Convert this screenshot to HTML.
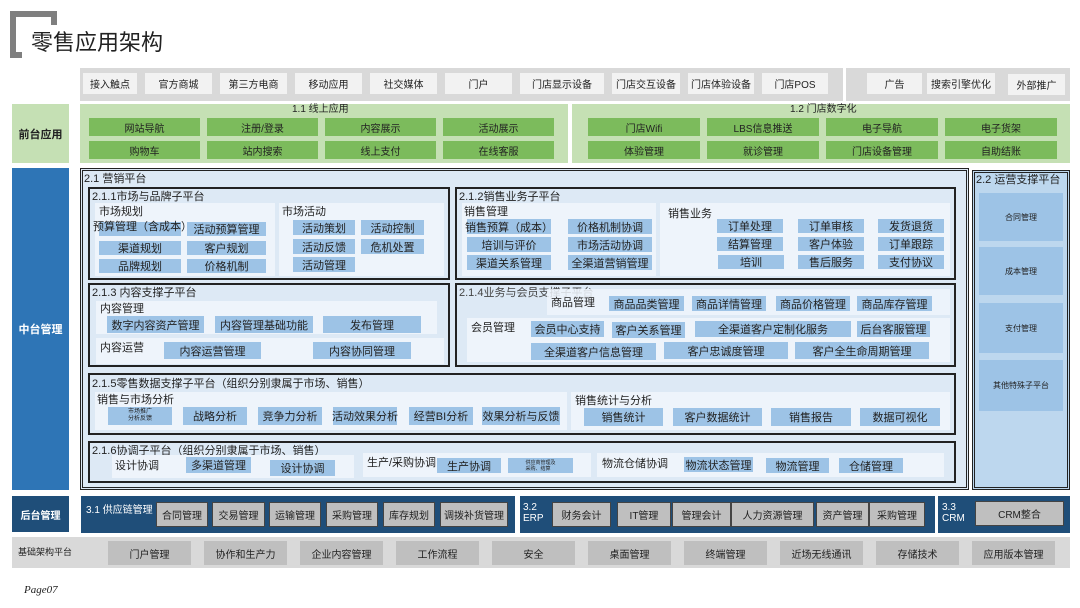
<!DOCTYPE html>
<html><head><meta charset="utf-8">
<style>
*{margin:0;padding:0;box-sizing:border-box}
body{width:1080px;height:608px;background:#fff;position:relative;overflow:hidden;font-family:"Liberation Sans","Noto Sans CJK SC",sans-serif;color:#222}
div{position:absolute}
.c{display:flex;align-items:center;justify-content:center;white-space:nowrap;font-size:10px}
.t{font-size:10px;white-space:nowrap;line-height:12px}
.g{background:#f2f2f2}
.gr{background:#7cbb5c}
.b{background:#9dc3e6}
.p{background:#eef4fb}
.f{border:2px solid #222;background:#dde9f5}
.k{background:#bfbfbf;border:1px solid #444}
</style></head><body>
<!-- title -->
<div style="left:10px;top:11px;width:6px;height:47px;background:#7f7f7f"></div>
<div style="left:10px;top:11px;width:47px;height:6px;background:#7f7f7f"></div>
<div style="left:51px;top:11px;width:6px;height:14px;background:#7f7f7f"></div>
<div style="left:10px;top:52px;width:12px;height:6px;background:#7f7f7f"></div>
<div style="left:31px;top:30px;font-size:22px;line-height:26px;white-space:nowrap">零售应用架构</div>

<!-- top bar -->
<div style="left:80px;top:68px;width:763px;height:33px;background:#d9d9d9"></div>
<div style="left:846px;top:68px;width:224px;height:33px;background:#d9d9d9"></div>
<div class="c g" style="left:83px;top:73px;width:54px;height:21px">接入触点</div>
<div class="c g" style="left:145px;top:73px;width:67px;height:21px">官方商城</div>
<div class="c g" style="left:220px;top:73px;width:67px;height:21px">第三方电商</div>
<div class="c g" style="left:295px;top:73px;width:67px;height:21px">移动应用</div>
<div class="c g" style="left:370px;top:73px;width:67px;height:21px">社交媒体</div>
<div class="c g" style="left:445px;top:73px;width:67px;height:21px">门户</div>
<div class="c g" style="left:520px;top:73px;width:84px;height:21px">门店显示设备</div>
<div class="c g" style="left:612px;top:73px;width:68px;height:21px">门店交互设备</div>
<div class="c g" style="left:688px;top:73px;width:66px;height:21px">门店体验设备</div>
<div class="c g" style="left:762px;top:73px;width:66px;height:21px">门店POS</div>
<div class="c g" style="left:867px;top:73px;width:55px;height:21px">广告</div>
<div class="c g" style="left:927px;top:73px;width:68px;height:21px">搜索引擎优化</div>
<div class="c g" style="left:1008px;top:74px;width:57px;height:21px">外部推广</div>

<!-- front -->
<div class="c" style="left:12px;top:104px;width:57px;height:59px;background:#c5e0b4;font-weight:bold;font-size:11px">前台应用</div>
<div style="left:80px;top:104px;width:488px;height:59px;background:#c5e0b4"></div>
<div class="t" style="left:292px;top:104px">1.1 线上应用</div>
<div class="c gr" style="left:89px;top:118px;width:111px;height:18px">网站导航</div>
<div class="c gr" style="left:207px;top:118px;width:111px;height:18px">注册/登录</div>
<div class="c gr" style="left:325px;top:118px;width:111px;height:18px">内容展示</div>
<div class="c gr" style="left:443px;top:118px;width:111px;height:18px">活动展示</div>
<div class="c gr" style="left:89px;top:141px;width:111px;height:18px">购物车</div>
<div class="c gr" style="left:207px;top:141px;width:111px;height:18px">站内搜索</div>
<div class="c gr" style="left:325px;top:141px;width:111px;height:18px">线上支付</div>
<div class="c gr" style="left:443px;top:141px;width:111px;height:18px">在线客服</div>
<div style="left:572px;top:104px;width:498px;height:59px;background:#c5e0b4"></div>
<div class="t" style="left:790px;top:104px">1.2 门店数字化</div>
<div class="c gr" style="left:588px;top:118px;width:112px;height:18px">门店Wifi</div>
<div class="c gr" style="left:707px;top:118px;width:112px;height:18px">LBS信息推送</div>
<div class="c gr" style="left:826px;top:118px;width:112px;height:18px">电子导航</div>
<div class="c gr" style="left:945px;top:118px;width:112px;height:18px">电子货架</div>
<div class="c gr" style="left:588px;top:141px;width:112px;height:18px">体验管理</div>
<div class="c gr" style="left:707px;top:141px;width:112px;height:18px">就诊管理</div>
<div class="c gr" style="left:826px;top:141px;width:112px;height:18px">门店设备管理</div>
<div class="c gr" style="left:945px;top:141px;width:112px;height:18px">自助结账</div>

<!-- middle -->
<div class="c" style="left:12px;top:168px;width:57px;height:322px;background:#2e75b6;color:#fff;font-weight:bold;font-size:11px">中台管理</div>
<div style="left:80px;top:168px;width:889px;height:322px;border:3px double #222;background:#dde9f5"></div>
<div class="t" style="left:84px;top:173px;font-size:11px">2.1 营销平台</div>

<!-- 2.1.1 -->
<div class="f" style="left:88px;top:187px;width:362px;height:93px"></div>
<div class="t" style="left:92px;top:191px;font-size:11px">2.1.1市场与品牌子平台</div>
<div class="p" style="left:95px;top:203px;width:180px;height:73px"></div>
<div class="p" style="left:279px;top:203px;width:165px;height:73px"></div>
<div class="t" style="left:99px;top:206px;font-size:11px">市场规划</div>
<div class="t" style="left:282px;top:206px;font-size:11px">市场活动</div>
<div class="b" style="left:99px;top:222px;width:82px;height:14px"></div>
<div class="t" style="left:93px;top:221px;font-size:11px">预算管理（含成本）</div>
<div class="c b" style="left:187px;top:222px;width:79px;height:14px;font-size:11px">活动预算管理</div>
<div class="c b" style="left:99px;top:241px;width:82px;height:14px;font-size:11px">渠道规划</div>
<div class="c b" style="left:187px;top:241px;width:79px;height:14px;font-size:11px">客户规划</div>
<div class="c b" style="left:99px;top:259px;width:82px;height:14px;font-size:11px">品牌规划</div>
<div class="c b" style="left:187px;top:259px;width:79px;height:14px;font-size:11px">价格机制</div>
<div class="c b" style="left:293px;top:220px;width:62px;height:15px;font-size:11px">活动策划</div>
<div class="c b" style="left:361px;top:220px;width:63px;height:15px;font-size:11px">活动控制</div>
<div class="c b" style="left:293px;top:239px;width:62px;height:15px;font-size:11px">活动反馈</div>
<div class="c b" style="left:361px;top:239px;width:63px;height:15px;font-size:11px">危机处置</div>
<div class="c b" style="left:293px;top:257px;width:62px;height:15px;font-size:11px">活动管理</div>

<!-- 2.1.2 -->
<div class="f" style="left:455px;top:187px;width:501px;height:93px"></div>
<div class="t" style="left:459px;top:191px;font-size:11px">2.1.2销售业务子平台</div>
<div class="p" style="left:462px;top:203px;width:194px;height:73px"></div>
<div class="p" style="left:660px;top:203px;width:290px;height:73px"></div>
<div class="t" style="left:464px;top:206px;font-size:11px">销售管理</div>
<div class="t" style="left:668px;top:208px;font-size:11px">销售业务</div>
<div class="c b" style="left:467px;top:219px;width:84px;height:15px;font-size:11px">销售预算（成本）</div>
<div class="c b" style="left:467px;top:237px;width:84px;height:15px;font-size:11px">培训与评价</div>
<div class="c b" style="left:467px;top:255px;width:84px;height:15px;font-size:11px">渠道关系管理</div>
<div class="c b" style="left:568px;top:219px;width:84px;height:15px;font-size:11px">价格机制协调</div>
<div class="c b" style="left:568px;top:237px;width:84px;height:15px;font-size:11px">市场活动协调</div>
<div class="c b" style="left:568px;top:255px;width:84px;height:15px;font-size:11px">全渠道营销管理</div>
<div class="c b" style="left:717px;top:219px;width:66px;height:14px;font-size:11px">订单处理</div>
<div class="c b" style="left:798px;top:219px;width:66px;height:14px;font-size:11px">订单审核</div>
<div class="c b" style="left:878px;top:219px;width:66px;height:14px;font-size:11px">发货退货</div>
<div class="c b" style="left:717px;top:237px;width:66px;height:14px;font-size:11px">结算管理</div>
<div class="c b" style="left:798px;top:237px;width:66px;height:14px;font-size:11px">客户体验</div>
<div class="c b" style="left:878px;top:237px;width:66px;height:14px;font-size:11px">订单跟踪</div>
<div class="c b" style="left:718px;top:255px;width:66px;height:14px;font-size:11px">培训</div>
<div class="c b" style="left:798px;top:255px;width:66px;height:14px;font-size:11px">售后服务</div>
<div class="c b" style="left:878px;top:255px;width:66px;height:14px;font-size:11px">支付协议</div>

<!-- 2.1.3 -->
<div class="f" style="left:88px;top:283px;width:362px;height:84px"></div>
<div class="t" style="left:92px;top:287px;font-size:11px">2.1.3 内容支撑子平台</div>
<div class="p" style="left:96px;top:301px;width:341px;height:33px"></div>
<div class="p" style="left:96px;top:338px;width:348px;height:26px"></div>
<div class="t" style="left:100px;top:303px;font-size:11px">内容管理</div>
<div class="c b" style="left:107px;top:316px;width:97px;height:17px;font-size:11px">数字内容资产管理</div>
<div class="c b" style="left:215px;top:316px;width:98px;height:17px;font-size:11px">内容管理基础功能</div>
<div class="c b" style="left:323px;top:316px;width:98px;height:17px;font-size:11px">发布管理</div>
<div class="t" style="left:100px;top:342px;font-size:11px">内容运营</div>
<div class="c b" style="left:164px;top:342px;width:97px;height:17px;font-size:11px">内容运营管理</div>
<div class="c b" style="left:313px;top:342px;width:98px;height:17px;font-size:11px">内容协同管理</div>

<!-- 2.1.4 -->
<div class="f" style="left:455px;top:283px;width:501px;height:84px"></div>
<div class="t" style="left:459px;top:287px;font-size:11px;color:#444">2.1.4业务与会员支撑子平台</div>
<div class="p" style="left:547px;top:289px;width:403px;height:26px;opacity:.85"></div>
<div class="t" style="left:551px;top:297px;font-size:11px">商品管理</div>
<div class="c b" style="left:609px;top:296px;width:75px;height:15px;font-size:11px">商品品类管理</div>
<div class="c b" style="left:692px;top:296px;width:74px;height:15px;font-size:11px">商品详情管理</div>
<div class="c b" style="left:776px;top:296px;width:74px;height:15px;font-size:11px">商品价格管理</div>
<div class="c b" style="left:857px;top:296px;width:75px;height:15px;font-size:11px">商品库存管理</div>
<div class="p" style="left:467px;top:318px;width:483px;height:44px"></div>
<div class="t" style="left:471px;top:322px;font-size:11px">会员管理</div>
<div class="c b" style="left:531px;top:321px;width:73px;height:16px;font-size:11px">会员中心支持</div>
<div class="c b" style="left:612px;top:322px;width:73px;height:16px;font-size:11px">客户关系管理</div>
<div class="c b" style="left:695px;top:321px;width:156px;height:16px;font-size:11px">全渠道客户定制化服务</div>
<div class="c b" style="left:857px;top:321px;width:73px;height:16px;font-size:11px">后台客服管理</div>
<div class="c b" style="left:531px;top:343px;width:125px;height:17px;font-size:11px">全渠道客户信息管理</div>
<div class="c b" style="left:664px;top:342px;width:124px;height:17px;font-size:11px">客户忠诚度管理</div>
<div class="c b" style="left:795px;top:342px;width:134px;height:17px;font-size:11px">客户全生命周期管理</div>

<!-- 2.1.5 -->
<div class="f" style="left:88px;top:373px;width:868px;height:62px"></div>
<div class="t" style="left:92px;top:378px;font-size:11px">2.1.5零售数据支撑子平台（组织分别隶属于市场、销售）</div>
<div class="p" style="left:95px;top:392px;width:472px;height:38px"></div>
<div class="p" style="left:571px;top:392px;width:379px;height:38px"></div>
<div class="t" style="left:97px;top:394px;font-size:11px">销售与市场分析</div>
<div class="t" style="left:575px;top:395px;font-size:11px">销售统计与分析</div>
<div class="c b" style="left:108px;top:407px;width:64px;height:18px;font-size:6px;line-height:7px;flex-direction:column">市场推广<br>分析反馈</div>
<div class="c b" style="left:183px;top:407px;width:64px;height:18px;font-size:11px">战略分析</div>
<div class="c b" style="left:258px;top:407px;width:64px;height:18px;font-size:11px">竞争力分析</div>
<div class="c b" style="left:333px;top:407px;width:64px;height:18px;font-size:11px">活动效果分析</div>
<div class="c b" style="left:409px;top:407px;width:64px;height:18px;font-size:11px">经营BI分析</div>
<div class="c b" style="left:482px;top:407px;width:78px;height:18px;font-size:11px">效果分析与反馈</div>
<div class="c b" style="left:584px;top:408px;width:79px;height:18px;font-size:11px">销售统计</div>
<div class="c b" style="left:673px;top:408px;width:89px;height:18px;font-size:11px">客户数据统计</div>
<div class="c b" style="left:771px;top:408px;width:80px;height:18px;font-size:11px">销售报告</div>
<div class="c b" style="left:860px;top:408px;width:80px;height:18px;font-size:11px">数据可视化</div>

<!-- 2.1.6 -->
<div class="f" style="left:88px;top:441px;width:868px;height:42px"></div>
<div class="t" style="left:92px;top:445px;font-size:11px">2.1.6协调子平台（组织分别隶属于市场、销售）</div>
<div class="p" style="left:112px;top:455px;width:242px;height:23px"></div>
<div class="t" style="left:115px;top:460px;font-size:11px">设计协调</div>
<div class="c b" style="left:186px;top:457px;width:65px;height:16px;font-size:11px">多渠道管理</div>
<div class="c b" style="left:270px;top:460px;width:65px;height:16px;font-size:11px">设计协调</div>
<div class="p" style="left:363px;top:453px;width:228px;height:24px"></div>
<div class="t" style="left:367px;top:457px;font-size:11px">生产/采购协调</div>
<div class="c b" style="left:437px;top:458px;width:64px;height:15px;font-size:11px">生产协调</div>
<div class="c b" style="left:508px;top:458px;width:65px;height:15px;font-size:5px;line-height:6px">供应商管理及<br>采购、结算</div>
<div class="p" style="left:597px;top:453px;width:347px;height:24px"></div>
<div class="t" style="left:602px;top:458px;font-size:11px">物流仓储协调</div>
<div class="c b" style="left:684px;top:457px;width:69px;height:15px;font-size:11px">物流状态管理</div>
<div class="c b" style="left:766px;top:458px;width:63px;height:15px;font-size:11px">物流管理</div>
<div class="c b" style="left:839px;top:458px;width:64px;height:15px;font-size:11px">仓储管理</div>

<!-- 2.2 -->
<div style="left:972px;top:170px;width:98px;height:320px;border:3px double #222;background:#bdd7ee"></div>
<div class="t" style="left:976px;top:174px;font-size:11px">2.2 运营支撑平台</div>
<div class="c b" style="left:979px;top:193px;width:84px;height:48px;font-size:8px">合同管理</div>
<div class="c b" style="left:979px;top:247px;width:84px;height:48px;font-size:8px">成本管理</div>
<div class="c b" style="left:979px;top:303px;width:84px;height:50px;font-size:8px">支付管理</div>
<div class="c b" style="left:979px;top:360px;width:84px;height:51px;font-size:8px">其他特殊子平台</div>

<!-- back -->
<div class="c" style="left:12px;top:496px;width:57px;height:36px;background:#1f4e79;color:#fff;font-weight:bold;font-size:10px">后台管理</div>
<div style="left:81px;top:496px;width:434px;height:37px;background:#1f4e79"></div>
<div class="t" style="left:86px;top:505px;color:#fff">3.1 供应链管理</div>
<div class="c k" style="left:156px;top:502px;width:52px;height:25px">合同管理</div>
<div class="c k" style="left:212px;top:502px;width:53px;height:25px">交易管理</div>
<div class="c k" style="left:269px;top:502px;width:52px;height:25px">运输管理</div>
<div class="c k" style="left:326px;top:502px;width:52px;height:25px">采购管理</div>
<div class="c k" style="left:383px;top:502px;width:52px;height:25px">库存规划</div>
<div class="c k" style="left:440px;top:502px;width:68px;height:25px">调拨补货管理</div>
<div style="left:520px;top:496px;width:415px;height:37px;background:#1f4e79"></div>
<div class="t" style="left:523px;top:502px;color:#fff;line-height:11px">3.2<br>ERP</div>
<div class="c k" style="left:552px;top:502px;width:59px;height:25px">财务会计</div>
<div class="c k" style="left:617px;top:502px;width:54px;height:25px">IT管理</div>
<div class="c k" style="left:672px;top:502px;width:59px;height:25px">管理会计</div>
<div class="c k" style="left:731px;top:502px;width:83px;height:25px">人力资源管理</div>
<div class="c k" style="left:816px;top:502px;width:53px;height:25px">资产管理</div>
<div class="c k" style="left:869px;top:502px;width:56px;height:25px">采购管理</div>
<div style="left:938px;top:496px;width:132px;height:37px;background:#1f4e79"></div>
<div class="t" style="left:942px;top:502px;color:#fff;line-height:11px">3.3<br>CRM</div>
<div class="c k" style="left:975px;top:501px;width:89px;height:25px">CRM整合</div>

<!-- infra -->
<div style="left:12px;top:537px;width:1058px;height:31px;background:#d9d9d9"></div>
<div class="t" style="left:18px;top:546px;font-size:9px">基础架构平台</div>
<div class="c" style="left:108px;top:541px;width:83px;height:24px;background:#bfbfbf">门户管理</div>
<div class="c" style="left:204px;top:541px;width:83px;height:24px;background:#bfbfbf">协作和生产力</div>
<div class="c" style="left:300px;top:541px;width:83px;height:24px;background:#bfbfbf">企业内容管理</div>
<div class="c" style="left:396px;top:541px;width:83px;height:24px;background:#bfbfbf">工作流程</div>
<div class="c" style="left:492px;top:541px;width:83px;height:24px;background:#bfbfbf">安全</div>
<div class="c" style="left:588px;top:541px;width:83px;height:24px;background:#bfbfbf">桌面管理</div>
<div class="c" style="left:684px;top:541px;width:83px;height:24px;background:#bfbfbf">终端管理</div>
<div class="c" style="left:780px;top:541px;width:83px;height:24px;background:#bfbfbf">近场无线通讯</div>
<div class="c" style="left:876px;top:541px;width:83px;height:24px;background:#bfbfbf">存储技术</div>
<div class="c" style="left:972px;top:541px;width:83px;height:24px;background:#bfbfbf">应用版本管理</div>

<div class="t" style="left:24px;top:584px;font-size:11px;font-style:italic;font-family:'Liberation Serif',serif">Page07</div>
</body></html>
